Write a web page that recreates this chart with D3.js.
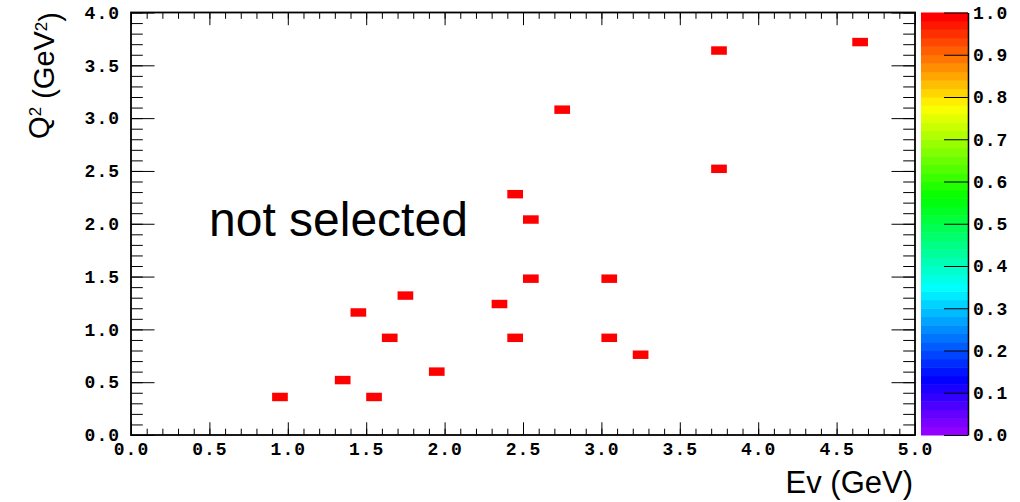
<!DOCTYPE html>
<html>
<head>
<meta charset="utf-8">
<script src="https://cdn.jsdelivr.net/npm/d3@7"></script>
<style>
  body { margin: 0; background: #fff; }
  .tick text { font-family: "Liberation Mono", monospace; font-size: 18px; font-weight: bold; letter-spacing: 1px; fill: #000; }
  .tick line { stroke: #000; stroke-width: 1; }
</style>
</head>
<body>
<div id="chart-area"></div>
<script>

// bin centres of the filled cells (Ev in GeV, Q2 in GeV^2)
var evCenters = [0.95, 1.35, 1.55, 1.45, 1.65, 1.75, 1.95, 2.35, 2.45, 2.45, 2.55, 2.55, 2.75, 3.05, 3.05, 3.25, 3.75, 3.75, 4.65];
var q2Centers = [0.36, 0.52, 0.36, 1.16, 0.92, 1.32, 0.60, 1.24, 2.28, 0.92, 2.04, 1.48, 3.08, 1.48, 0.92, 0.76, 3.64, 2.52, 3.72];
var cellCounts = [1, 1, 1, 1, 1, 1, 1, 1, 1, 1, 1, 1, 1, 1, 1, 1, 1, 1, 1];

var xTickLabels = ["0.0", "0.5", "1.0", "1.5", "2.0", "2.5", "3.0", "3.5", "4.0", "4.5", "5.0"];
var yTickLabels = ["0.0", "0.5", "1.0", "1.5", "2.0", "2.5", "3.0", "3.5", "4.0"];
var zTickLabels = ["0.0", "0.1", "0.2", "0.3", "0.4", "0.5", "0.6", "0.7", "0.8", "0.9", "1.0"];

var binW = 0.1, binH = 0.08;
var nColors = 50;

var margin = { left: 131, right: 105, top: 12.5, bottom: 67 };
var width = 1020 - margin.left - margin.right,
    height = 502 - margin.top - margin.bottom;

var svg = d3.select("#chart-area")
    .append("svg")
        .attr("width", 1020)
        .attr("height", 502);

svg.append("rect")
    .attr("width", 1020)
    .attr("height", 502)
    .attr("fill", "#fff");

var g = svg.append("g")
    .attr("transform", "translate(" + margin.left + ", " + margin.top + ")");

// X Scale
var x = d3.scaleLinear()
    .domain([0, 5])
    .range([0, width]);

// Y Scale
var y = d3.scaleLinear()
    .domain([0, 4])
    .range([height, 0]);

// Palette scale (ROOT pretty palette, violet -> red)
var z = d3.scaleLinear()
    .domain([0, 1])
    .range([height, 0]);

function paletteColor(i) {
    return d3.hsl(280 - (i + 1) * (280 / nColors), 1, 0.5).toString();
}

function colorOf(v) {
    var i = Math.min(nColors - 1, Math.floor(v * nColors));
    return paletteColor(i);
}

// cells
g.selectAll("rect.cell")
    .data(evCenters)
    .enter()
    .append("rect")
        .attr("class", "cell")
        .attr("x", function(d){ return x(d - binW / 2); })
        .attr("y", function(d, i){ return y(q2Centers[i] + binH / 2); })
        .attr("width", function(d){ return x(d + binW / 2) - x(d - binW / 2); })
        .attr("height", function(d, i){ return y(q2Centers[i] - binH / 2) - y(q2Centers[i] + binH / 2); })
        .attr("fill", function(d, i){ return colorOf(cellCounts[i]); });

var xMajor = xTickLabels.map(Number);
var yMajor = yTickLabels.map(Number);
var xMinor = d3.range(0, 51).map(function(i){ return i / 10; });
var yMinor = d3.range(0, 41).map(function(i){ return i / 10; });

// X Axis (bottom)
g.append("g")
    .attr("class", "x axis")
    .attr("transform", "translate(0," + height + ")")
    .call(d3.axisBottom(x).tickValues(xMinor).tickSizeInner(-6.3).tickSizeOuter(0).tickFormat(""));
g.append("g")
    .attr("class", "x axis")
    .attr("transform", "translate(0," + height + ")")
    .call(d3.axisBottom(x).tickValues(xMajor).tickSizeInner(-12.7).tickSizeOuter(0).tickPadding(7)
        .tickFormat(function(d, i){ return xTickLabels[i]; }));

// X Axis (top, ticks only)
g.append("g")
    .call(d3.axisTop(x).tickValues(xMinor).tickSizeInner(-6.3).tickSizeOuter(0).tickFormat(""));
g.append("g")
    .call(d3.axisTop(x).tickValues(xMajor).tickSizeInner(-12.7).tickSizeOuter(0).tickFormat(""));

// Y Axis (left)
g.append("g")
    .attr("class", "y axis")
    .call(d3.axisLeft(y).tickValues(yMinor).tickSizeInner(-11.8).tickSizeOuter(0).tickFormat(""));
g.append("g")
    .attr("class", "y axis")
    .call(d3.axisLeft(y).tickValues(yMajor).tickSizeInner(-23.5).tickSizeOuter(0).tickPadding(11)
        .tickFormat(function(d, i){ return yTickLabels[i]; }));

// Y Axis (right, ticks only)
g.append("g")
    .attr("transform", "translate(" + width + ",0)")
    .call(d3.axisRight(y).tickValues(yMinor).tickSizeInner(-11.8).tickSizeOuter(0).tickFormat(""));
g.append("g")
    .attr("transform", "translate(" + width + ",0)")
    .call(d3.axisRight(y).tickValues(yMajor).tickSizeInner(-23.5).tickSizeOuter(0).tickFormat(""));

g.selectAll(".domain").remove();

// frame
g.append("rect")
    .attr("width", width)
    .attr("height", height)
    .attr("fill", "none")
    .attr("stroke", "#000")
    .attr("stroke-width", 1.8);

// palette
var pal = g.append("g")
    .attr("transform", "translate(" + (width + 6) + ",0)");

pal.selectAll("rect")
    .data(d3.range(nColors))
    .enter()
    .append("rect")
        .attr("x", 0)
        .attr("y", function(d){ return z((d + 1) / nColors); })
        .attr("width", 47)
        .attr("height", function(d){ return z(d / nColors) - z((d + 1) / nColors) + 0.5; })
        .attr("fill", function(d){ return paletteColor(d); });

var zAxis = pal.append("g")
    .attr("transform", "translate(47,0)")
    .call(d3.axisRight(z).tickValues(zTickLabels.map(Number)).tickSizeInner(-24).tickSizeOuter(0).tickPadding(5)
        .tickFormat(function(d, i){ return zTickLabels[i]; }));
zAxis.select(".domain")
    .attr("stroke", "#000")
    .attr("stroke-width", 1.5);

// X Label
svg.append("text")
    .attr("x", 913)
    .attr("y", 493)
    .attr("text-anchor", "end")
    .attr("font-family", "Liberation Sans, Arial")
    .attr("font-size", "31px")
    .text("Ev (GeV)");

// Y Label
var yLabel = svg.append("text")
    .attr("transform", "translate(49,12) rotate(-90)")
    .attr("text-anchor", "end")
    .attr("font-family", "Liberation Sans, Arial")
    .attr("font-size", "29px");
yLabel.append("tspan").text("Q");
yLabel.append("tspan").attr("dy", "-0.45em").attr("font-size", "17px").text("2");
yLabel.append("tspan").attr("dy", "0.45em").text(" (GeV");
yLabel.append("tspan").attr("dy", "-0.45em").attr("font-size", "17px").text("2");
yLabel.append("tspan").attr("dy", "0.45em").text(")");

// annotation
svg.append("text")
    .attr("x", 209)
    .attr("y", 236)
    .attr("font-family", "Liberation Sans, Arial")
    .attr("font-size", "48px")
    .text("not selected");

</script>
</body>
</html>
